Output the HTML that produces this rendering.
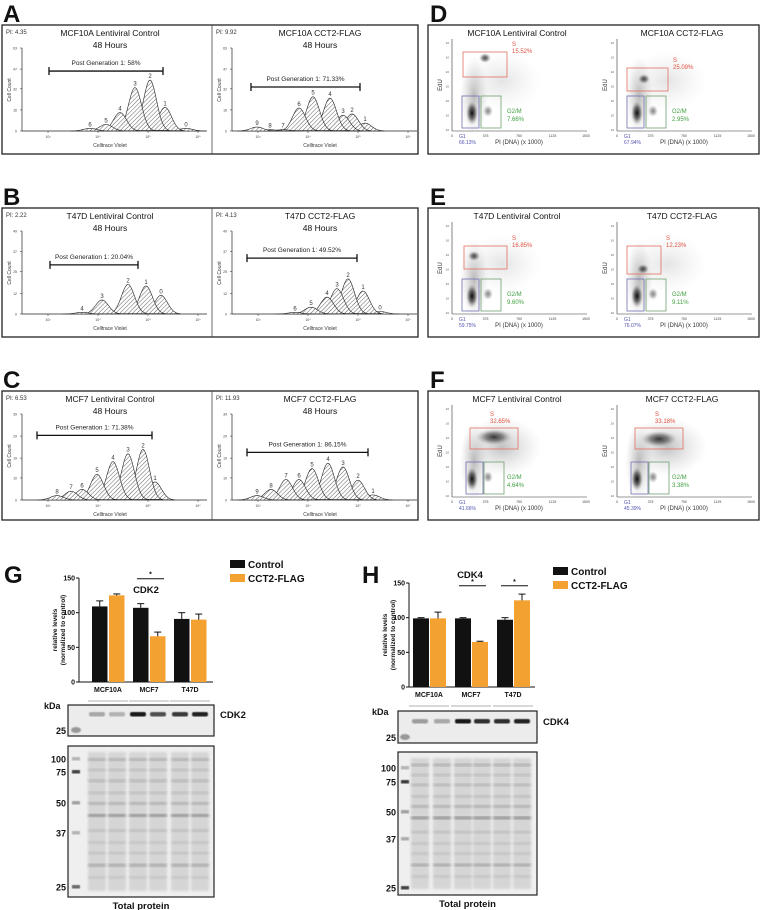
<!DOCTYPE html>
<html><head><meta charset="utf-8"><style>
html,body{margin:0;padding:0;background:#fff;}
svg{display:block;font-family:"Liberation Sans",Arial,sans-serif;}
</style></head><body>
<svg id="fig" width="760" height="910" viewBox="0 0 760 910" xmlns="http://www.w3.org/2000/svg">
<defs>
<pattern id="hatch" width="3" height="3" patternUnits="userSpaceOnUse" patternTransform="rotate(45)"><rect width="3" height="3" fill="#fff"/><line x1="0" y1="0" x2="0" y2="3" stroke="#444" stroke-width="0.9"/></pattern>
<radialGradient id="blob"><stop offset="0" stop-color="#000" stop-opacity="0.95"/><stop offset="0.5" stop-color="#222" stop-opacity="0.6"/><stop offset="1" stop-color="#888" stop-opacity="0"/></radialGradient>
<radialGradient id="haze"><stop offset="0" stop-color="#666" stop-opacity="0.45"/><stop offset="1" stop-color="#aaa" stop-opacity="0"/></radialGradient>
<filter id="blur1"><feGaussianBlur stdDeviation="1.2"/></filter>
<filter id="blur05"><feGaussianBlur stdDeviation="0.6"/></filter>
</defs>
<g id="root"></g>
</svg>
<script>
// ---------- data ----------
const histTitles = [["MCF10A Lentiviral Control","MCF10A CCT2-FLAG"],["T47D Lentiviral Control","T47D CCT2-FLAG"],["MCF7 Lentiviral Control","MCF7 CCT2-FLAG"]];
const histPI = [["PI: 4.35","PI: 9.92"],["PI: 2.22","PI: 4.13"],["PI: 6.53","PI: 11.93"]];
const histYTicks = [[0,16,32,47,63],[0,12,25,37,49],[0,10,19,29,39]];
const histPost = [["Post Generation 1: 58%","Post Generation 1: 71.33%"],["Post Generation 1: 20.04%","Post Generation 1: 49.52%"],["Post Generation 1: 71.38%","Post Generation 1: 86.15%"]];
const postStart = [[3.02,2.86],[3.04,2.78],[2.78,2.78]];
const postEnd = [[5.3,5.04],[4.8,4.98],[5.08,5.2]];
const postY = [[45.5,33.4],[29,33],[29.3,21.6]];
const peakPos = [
 [[5.76,5.34,5.04,4.74,4.44,4.16,3.84],[5.14,4.88,4.7,4.44,4.1,3.82,3.5,3.24,2.98]],
 [[5.26,4.96,4.6,4.08,3.68],[5.44,5.1,4.8,4.58,4.38,4.06,3.74]],
 [[5.14,4.9,4.6,4.3,3.98,3.68,3.46,3.18],[5.3,5.0,4.7,4.4,4.08,3.82,3.56,3.26,2.98]]];
const peakH = [
 [[2,18,38.7,33,14,5,2],[6,13,12,25,26,17.5,1,1,3]],
 [[11,16.6,17.5,8.3,1],[1.5,13.6,20.8,15,10,4,1]],
 [[8.2,23,21,17.4,11.7,4.8,4,2],[2.3,9,15,16.7,14.3,9.3,9.3,4.8,2]]];
const peakLbl = [
 [["0","1","2","3","4","5","6"],["1","2","3","4","5","6","7","8","9"]],
 [["0","1","2","3","4"],["0","1","2","3","4","5","6"]],
 [["1","2","3","4","5","6","7","8"],["1","2","3","4","5","6","7","8","9"]]];

const flowTitles = [["MCF10A Lentiviral Control","MCF10A CCT2-FLAG"],["T47D Lentiviral Control","T47D CCT2-FLAG"],["MCF7 Lentiviral Control","MCF7 CCT2-FLAG"]];
const flowS = [["15.52%","25.09%"],["16.85%","12.23%"],["32.65%","33.18%"]];
const flowG2 = [["7.66%","2.95%"],["9.60%","9.11%"],["4.64%","3.38%"]];
const flowG1 = [["66.13%","67.94%"],["59.75%","76.07%"],["41.66%","45.39%"]];
const flowXTicks = ["0","375","750","1125","1500"];

const cats = ["MCF10A","MCF7","T47D"];
const cdk2Ctrl = [109,107,91], cdk2Ctrl_err = [8,6,9];
const cdk2Flag = [125,66,90], cdk2Flag_err = [2,6,8];
const cdk4Ctrl = [99,99,97], cdk4Ctrl_err = [1,1,3];
const cdk4Flag = [99,65,125], cdk4Flag_err = [9,1,9];
const barTicks = [0,50,100,150];

// ---------- helpers ----------
const NS="http://www.w3.org/2000/svg";
const root=document.getElementById('root');
function el(tag,attrs,parent,text){const e=document.createElementNS(NS,tag);for(const k in attrs)e.setAttribute(k,attrs[k]);if(text!==undefined)e.textContent=text;(parent||root).appendChild(e);return e;}
function txt(x,y,s,size,opts,parent){opts=opts||{};const t=el('text',{x:x,y:y,'font-size':size,fill:opts.fill||'#111','text-anchor':opts.anchor||'start','font-weight':opts.bold?'bold':'normal'},parent,s);if(opts.rot)t.setAttribute('transform',`rotate(${opts.rot} ${x} ${y})`);return t;}

[["A",3,22],["B",3,205],["C",3,388],["D",430,22],["E",430,205],["F",430,388],["G",4,583],["H",362,583]].forEach(l=>{
 const t=txt(l[1],l[2],l[0],24,{bold:true});
 
 
});

// ---------- histograms ----------
const boxTops=[25,208,391];
for(let r=0;r<3;r++){
 const bt=boxTops[r];
 const frame=el('rect',{x:2,y:bt,width:416,height:129,fill:'none',stroke:'#222','stroke-width':1.3});
 
 
 el('line',{x1:212,y1:bt,x2:212,y2:bt+129,stroke:'#444','stroke-width':0.8});
 for(let c=0;c<2;c++){
  const ox=2+c*210;
  const g=el('g',{});
  
  
  const base=bt+106+(r==2?3:0), top=bt+23, ymax=histYTicks[r][4];
  const X=v=>ox+46+(v-3)*50;
  const Y=v=>base-(v/ymax)*(base-top);
  txt(ox+4,bt+9,histPI[r][c],6,{fill:'#333'},g);
  txt(ox+108,bt+11,histTitles[r][c],8.5,{anchor:'middle'},g);
  txt(ox+108,bt+23,'48 Hours',8.5,{anchor:'middle'},g);
  el('line',{x1:ox+20,y1:top,x2:ox+20,y2:base,stroke:'#222','stroke-width':0.7},g);
  el('line',{x1:ox+20,y1:base,x2:ox+205,y2:base,stroke:'#222','stroke-width':0.7},g);
  histYTicks[r].forEach(v=>{el('line',{x1:ox+18,y1:Y(v),x2:ox+20,y2:Y(v),stroke:'#222','stroke-width':0.5},g);txt(ox+15,Y(v)+1.5,String(v),3.5,{anchor:'end',fill:'#444'},g);});
  [3,4,5,6].forEach((p,i)=>{const tx=X(p);el('line',{x1:tx,y1:base,x2:tx,y2:base+2,stroke:'#222','stroke-width':0.5},g);txt(tx,base+7,'10'+['³','⁴','⁵','⁶'][i],3.5,{anchor:'middle',fill:'#444'},g);});
  txt(ox+9,bt+65,'Cell Count',5,{anchor:'middle',rot:-90,fill:'#333'},g);
  txt(ox+108,base+16,'Celltrace Violet',5,{anchor:'middle',fill:'#333'},g);
  const P=peakPos[r][c],H=peakH[r][c],L=peakLbl[r][c];
  for(let i=0;i<P.length;i++){
   const sig=0.13;let d='';
   for(let k=0;k<=30;k++){const u=-3*sig+k*(6*sig/30);const yy=Y(H[i]*Math.exp(-u*u/(2*sig*sig)));d+=(k?'L':'M')+X(P[i]+u).toFixed(1)+','+yy.toFixed(1);}
   const pk=el('path',{d:d+'Z',fill:'url(#hatch)',stroke:'#222','stroke-width':0.6,'fill-opacity':0.9},g);
   
   
   txt(X(P[i]),Y(H[i])-2,L[i],6,{anchor:'middle',fill:'#333'},g);
  }
  const py=Y(postY[r][c]);
  const x1=X(postStart[r][c]),x2=X(postEnd[r][c]);
  el('line',{x1:x1,y1:py,x2:x2,y2:py,stroke:'#111','stroke-width':1.3},g);
  el('line',{x1:x1,y1:py-4,x2:x1,y2:py+4,stroke:'#111','stroke-width':1.3},g);
  el('line',{x1:x2,y1:py-4,x2:x2,y2:py+4,stroke:'#111','stroke-width':1.3},g);
  txt((x1+x2)/2,py-6,histPost[r][c],6.5,{anchor:'middle',fill:'#222'},g);
 }
}

// ---------- flow scatter ----------
const sBoxes=[[[11,55,-79,-54],[10,51,-63,-40]],[[12,55,-68,-45],[10,44,-68,-40]],[[18,66,-69,-48],[18,66,-69,-48]]];
const sClust=[[[33,-73],[27,-52]],[[22,-58],[26,-45]],[[42,-60],[42,-58]]];
for(let r=0;r<3;r++){
 const bt=boxTops[r];
 const frame=el('rect',{x:428,y:bt,width:331,height:129,fill:'none',stroke:'#222','stroke-width':1.3});
 
 
 for(let c=0;c<2;c++){
  const ax=452+c*165, base=bt+106, top=bt+14;
  const g=el('g',{});
  
  
  txt(ax+65,bt+11,flowTitles[r][c],8.5,{anchor:'middle'},g);
  el('line',{x1:ax,y1:top,x2:ax,y2:base,stroke:'#333','stroke-width':0.6},g);
  el('line',{x1:ax,y1:base,x2:ax+135,y2:base,stroke:'#333','stroke-width':0.6},g);
  flowXTicks.forEach((t,i)=>{const tx=ax+i*33.5;txt(tx,base+6,t,3.5,{anchor:'middle',fill:'#444'},g);});
  for(let i=0;i<7;i++){txt(ax-3,base-i*14.5,'10',3,{anchor:'end',fill:'#555'},g);}
  txt(ax-10,bt+60,'EdU',6,{anchor:'middle',rot:-90,fill:'#333'},g);
  txt(ax+67,base+13,'PI (DNA) (x 1000)',6,{anchor:'middle',fill:'#333'},g);
  el('ellipse',{cx:ax+22,cy:base-35,rx:14,ry:40,fill:'url(#haze)'},g);
  el('ellipse',{cx:ax+50,cy:base-50,rx:40,ry:30,fill:'url(#haze)','opacity':r==2?0.9:0.4},g);
  el('ellipse',{cx:ax+20,cy:base-18,rx:6,ry:12,fill:'url(#blob)'},g);
  el('ellipse',{cx:ax+36,cy:base-20,rx:5,ry:6,fill:'url(#blob)',opacity:0.5},g);
  const big=r==2;
  el('ellipse',{cx:ax+sClust[r][c][0],cy:base+sClust[r][c][1],rx:big?18:6,ry:big?8:5,fill:'url(#blob)',opacity:big?0.8:0.75},g);
  const sb=sBoxes[r][c];
  el('rect',{x:ax+sb[0],y:base+sb[2],width:sb[1]-sb[0],height:sb[3]-sb[2],fill:'none',stroke:'#e07060','stroke-width':0.8},g);
  el('rect',{x:ax+(big?14:10),y:base-35,width:17,height:32,fill:'none',stroke:'#7070b0','stroke-width':0.8},g);
  el('rect',{x:ax+(big?32:29),y:base-35,width:20,height:32,fill:'none',stroke:'#70a070','stroke-width':0.8},g);
  const sx=big?ax+sb[0]+20:ax+sb[1]+5, sy=big?base+sb[2]-12:base+sb[2]-6;
  txt(sx,sy,'S',6,{fill:'#e05040'},g);
  txt(sx,sy+7,flowS[r][c],6,{fill:'#e05040'},g);
  txt(ax+55,base-18,'G2/M',6,{fill:'#40a040'},g);
  txt(ax+55,base-10,flowG2[r][c],6,{fill:'#40a040'},g);
  txt(ax+7,base+7,'G1',5,{fill:'#5050b0'},g);
  txt(ax+7,base+13,flowG1[r][c],5,{fill:'#5050b0'},g);
 }
}

// ---------- bar charts ----------
function barChart(cfg){
 const g=el('g',{});
 
 
 const Y=v=>cfg.y0-(v/150)*(cfg.y0-cfg.ytop);
 txt(cfg.titleX,cfg.titleY,cfg.title,9.5,{anchor:'middle',bold:true},g);
 el('line',{x1:cfg.x0,y1:cfg.ytop,x2:cfg.x0,y2:cfg.y0,stroke:'#111','stroke-width':1},g);
 el('line',{x1:cfg.x0,y1:cfg.y0,x2:cfg.x1,y2:cfg.y0,stroke:'#111','stroke-width':1},g);
 barTicks.forEach(v=>{el('line',{x1:cfg.x0-3,y1:Y(v),x2:cfg.x0,y2:Y(v),stroke:'#111'},g);txt(cfg.x0-4,Y(v)+2.5,String(v),7,{anchor:'end',bold:true},g);});
 txt(cfg.x0-22,(cfg.y0+cfg.ytop)/2,'relative levels',6.5,{anchor:'middle',rot:-90,bold:true},g);
 txt(cfg.x0-14,(cfg.y0+cfg.ytop)/2,'(normalized to control)',6.5,{anchor:'middle',rot:-90,bold:true},g);
 const series=[[cfg.ctrl,cfg.ctrlErr,'#111','control'],[cfg.flag,cfg.flagErr,'#f3a232','cct2-flag']];
 cats.forEach((cName,i)=>{
  const gs=cfg.x0+cfg.off+i*cfg.sp;
  series.forEach((s,j)=>{
   const bx=gs+j*17, v=s[0][i], e=s[1][i];
   const b=el('rect',{x:bx,y:Y(v),width:cfg.bw,height:cfg.y0-Y(v),fill:s[2]},g);
   
   
   const cx=bx+cfg.bw/2;
   el('line',{x1:cx,y1:Y(v),x2:cx,y2:Y(v+e),stroke:'#111','stroke-width':1},g);
   el('line',{x1:cx-3.5,y1:Y(v+e),x2:cx+3.5,y2:Y(v+e),stroke:'#111','stroke-width':1},g);
  });
  txt(gs+16,cfg.y0+10,cName,7,{anchor:'middle',bold:true},g);
  el('line',{x1:gs-4,y1:cfg.y0+19,x2:gs+36,y2:cfg.y0+19,stroke:'#999','stroke-width':0.8},g);
 });
 cfg.sig.forEach(i=>{const gs=cfg.x0+cfg.off+i*cfg.sp;const sy=Y(cfg.sigV);el('line',{x1:gs+4,y1:sy,x2:gs+31,y2:sy,stroke:'#111','stroke-width':1},g);txt(gs+17.5,sy-2,'*',7,{anchor:'middle',bold:true},g);});
 const lg=el('g',{},g);
 
 
 el('rect',{x:cfg.lx,y:cfg.ly-6,width:15,height:8,fill:'#111'},lg);
 txt(cfg.lx+18,cfg.ly+2,'Control',10,{bold:true},lg);
 el('rect',{x:cfg.lx,y:cfg.ly+8,width:15,height:8,fill:'#f3a232'},lg);
 txt(cfg.lx+18,cfg.ly+16,'CCT2-FLAG',10,{bold:true},lg);
}
barChart({name:'cdk2-bar-chart',title:'CDK2',titleX:146,titleY:593,x0:79,x1:213,y0:682,ytop:578,off:13,sp:41,bw:15.5,ctrl:cdk2Ctrl,ctrlErr:cdk2Ctrl_err,flag:cdk2Flag,flagErr:cdk2Flag_err,sig:[1],sigV:149,lx:230,ly:566});
barChart({name:'cdk4-bar-chart',title:'CDK4',titleX:470,titleY:578,x0:409,x1:535,y0:687,ytop:583,off:4,sp:42,bw:16,ctrl:cdk4Ctrl,ctrlErr:cdk4Ctrl_err,flag:cdk4Flag,flagErr:cdk4Flag_err,sig:[1,2],sigV:146,lx:553,ly:573});

// ---------- blots ----------
function blot(bx,by,bw,bh,lanes,bandY,inten,label,mx,mlabelX,name){
 const g=el('g',{});
 
 
 el('rect',{x:bx,y:by,width:bw,height:bh,fill:'#ececec',stroke:'#222','stroke-width':1.2},g);
 lanes.forEach((lx,i)=>{el('rect',{x:lx-8,y:bandY-2,width:16,height:4.5,rx:2,fill:'#111',opacity:inten[i],filter:'url(#blur05)'},g);});
 el('ellipse',{cx:mx,cy:by+bh-6,rx:5,ry:3,fill:'#999',filter:'url(#blur05)'},g);
 txt(bx+bw+6,bandY+4,label,9.5,{bold:true},g);
 txt(bx-2,by+bh-2,'25',9,{anchor:'end',bold:true},g);
 txt(mlabelX,by+4,'kDa',9,{anchor:'start',bold:true},g);
}
blot(68,705,146,31,[97,117,138,158,180,200],714,[0.3,0.25,0.95,0.7,0.8,0.9],'CDK2',76,44,'cdk2-blot');
blot(398,711,139,32,[420,442,463,482,502,522],721,[0.35,0.3,0.95,0.85,0.85,0.9],'CDK4',405,372,'cdk4-blot');

const tpBands=[0.08,0.15,0.22,0.3,0.37,0.45,0.55,0.63,0.7,0.78,0.86];
const tpBandOp=[0.25,0.15,0.2,0.15,0.25,0.45,0.15,0.12,0.12,0.3,0.1];
function totalProtein(bx,by,bw,bh,lanes,markers,mx,name){
 const g=el('g',{});
 
 
 el('rect',{x:bx,y:by,width:bw,height:bh,fill:'#efefef',stroke:'#222','stroke-width':1.2},g);
 lanes.forEach(lx=>{
  el('rect',{x:lx-9,y:by+6,width:18,height:bh-12,fill:'#cfcfcf',opacity:0.8,filter:'url(#blur1)'},g);
  tpBands.forEach((f,i)=>{el('rect',{x:lx-9,y:by+f*bh,width:18,height:3,fill:'#444',opacity:tpBandOp[i],filter:'url(#blur1)'},g);});
 });
 markers.forEach(m=>{el('rect',{x:mx-4,y:m[1]-2,width:8,height:3.5,fill:'#333',opacity:m[2],filter:'url(#blur05)'},g);txt(bx-2,m[1]+3.5,m[0],9,{anchor:'end',bold:true},g);});
 txt(bx+bw/2,by+bh+12,'Total protein',9.5,{anchor:'middle',bold:true},g);
}
totalProtein(68,746,146,151,[97,117,138,158,180,200],[["100",759,0.3],["75",772,0.9],["50",803,0.4],["37",833,0.3],["25",887,0.7]],76,'cdk2-total-protein');
totalProtein(398,752,139,143,[420,442,463,482,502,522],[["100",768,0.3],["75",782,0.95],["50",812,0.4],["37",839,0.35],["25",888,0.9]],405,'cdk4-total-protein');
</script>
</body></html>
